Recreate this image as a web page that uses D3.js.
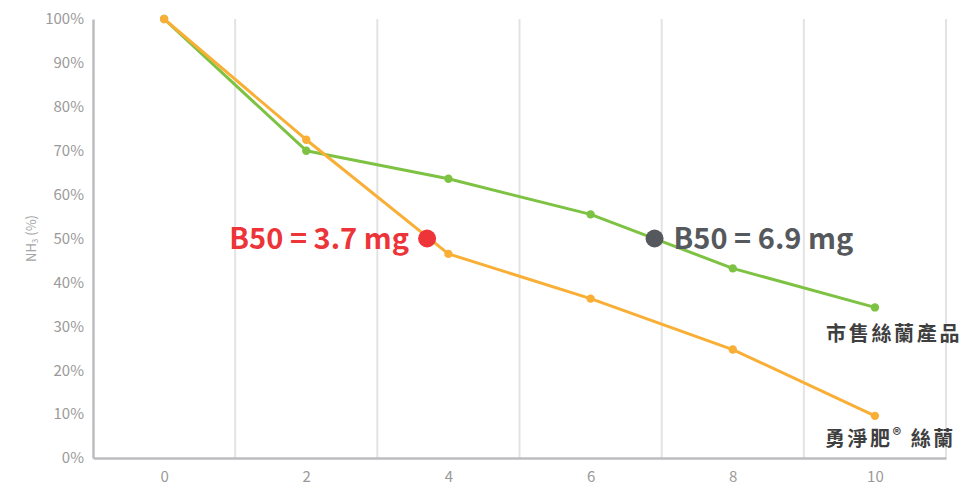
<!DOCTYPE html>
<html><head><meta charset="utf-8">
<script src="https://cdn.jsdelivr.net/npm/d3@7"></script>
<style>body{margin:0;background:#fff}svg{display:block}</style>
</head><body><svg id="c" width="967" height="485"></svg>
<script>
const xValues = [0, 2, 4, 6, 8, 10];
const marketValues = [100, 70, 63.6, 55.5, 43.2, 34.3];
const yongValues = [100, 72.5, 46.5, 36.3, 24.7, 9.6];
const yTicks = [0,10,20,30,40,50,60,70,80,90,100];
const xTicks = [0,2,4,6,8,10];
const gridX = [1,3,5,7,9,11];
const b50 = [{x:3.7, y:50, label:"B50 = 3.7 mg", color:"#ec3439", side:"left"},
             {x:6.9, y:50, label:"B50 = 6.9 mg", color:"#55585c", side:"right"}];
const seriesNames = ["市售絲蘭產品", "勇淨肥® 絲蘭"];

const svg = d3.select("#c");
const x = d3.scaleLinear().domain([-1, 11]).range([93, 946]);
const y = d3.scaleLinear().domain([0, 100]).range([458, 19]);
const font = "'Noto Sans CJK TC', 'Noto Sans', sans-serif";

// grid
svg.append("g").selectAll("line").data(gridX).join("line")
  .attr("x1", d=>x(d)).attr("x2", d=>x(d)).attr("y1", y(100)).attr("y2", y(0))
  .attr("stroke", "#e3e3e5").attr("stroke-width", 2);

// axes
const yAxis = svg.append("g").attr("transform", `translate(${x(-1)},0)`)
  .call(d3.axisLeft(y).tickValues(yTicks).tickSize(0).tickPadding(9).tickFormat(d=>d+"%"));
const xAxis = svg.append("g").attr("transform", `translate(0,${y(0)})`)
  .call(d3.axisBottom(x).tickValues(xTicks).tickSize(0).tickPadding(13).tickFormat(d3.format("d")));
[yAxis, xAxis].forEach(a=>{
  a.select(".domain").attr("stroke", "#bdbdbf").attr("stroke-width", 2.5);
  a.selectAll("text").attr("fill", "#9a9a9a").style("font-family", font).style("font-size", "15px");
});

// y label
svg.append("text").attr("transform", `translate(36,${(y(0)+y(100))/2}) rotate(-90)`)
  .attr("text-anchor", "middle").attr("fill", "#a5a5a5").style("font-family", font).style("font-size", "13px")
  .html('NH<tspan font-size="8" dy="2">3</tspan><tspan dy="-2"> (%)</tspan>');

const line = d3.line().x(d=>x(d[0])).y(d=>y(d[1]));
function drawSeries(vals, color){
  const pts = xValues.map((v,i)=>[v, vals[i]]);
  svg.append("path").datum(pts).attr("d", line).attr("fill","none")
    .attr("stroke", color).attr("stroke-width", 3).attr("stroke-linejoin","round");
  svg.append("g").selectAll("circle").data(pts).join("circle")
    .attr("cx", d=>x(d[0])).attr("cy", d=>y(d[1])).attr("r", 4.2).attr("fill", color);
}
drawSeries(marketValues, "#7dc242");
drawSeries(yongValues, "#f9ae35");

// B50 markers
b50.forEach(b=>{
  svg.append("circle").attr("cx", x(b.x)).attr("cy", y(b.y)).attr("r", 9).attr("fill", b.color);
  svg.append("text").attr("x", b.side==="left" ? x(b.x)-18 : x(b.x)+19).attr("y", y(b.y)+10)
    .attr("text-anchor", b.side==="left" ? "end" : "start")
    .attr("fill", b.color).style("font-family", font).style("font-weight", "700").style("font-size", "29px")
    .text(b.label);
});

// series labels
svg.append("text").attr("x", 826).attr("y", 341).attr("fill", "#3f3f3f")
  .style("font-family", font).style("font-weight", "700").style("font-size", "20px")
  .style("letter-spacing", "2.7px").text(seriesNames[0]);
svg.append("text").attr("x", 825).attr("y", 446).attr("fill", "#3f3f3f")
  .style("font-family", font).style("font-weight", "700").style("font-size", "20px")
  .style("letter-spacing", "2.5px")
  .html('勇淨肥<tspan font-size="17" dy="-5">®</tspan><tspan dy="5"> 絲蘭</tspan>');
</script></body></html>
